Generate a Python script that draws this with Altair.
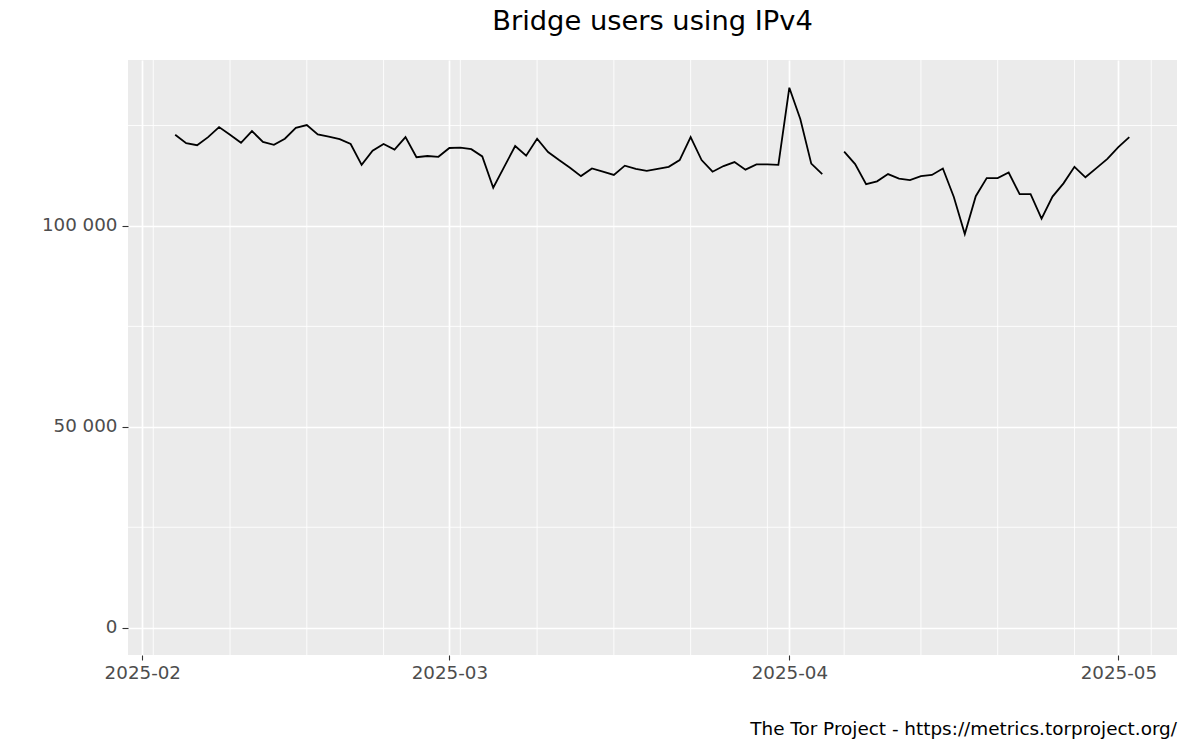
import altair as alt
import pandas as pd

# ---- data ----
dates = [d.strftime("%Y-%m-%d") for d in pd.date_range("2025-02-04", "2025-05-02", freq="D")]
users = [
    # Feb 4 - Feb 28
    122700, 120600, 120100, 122100, 124600, 122700, 120700, 123600, 120900, 120200,
    121700, 124400, 125100, 122800, 122200, 121600, 120400, 115200, 118700, 120400,
    119000, 122100, 117100, 117400, 117200,
    # Mar 1 - Mar 31
    119400, 119500, 119100, 117300, 109500, 114700, 119900, 117500, 121700, 118400,
    116400, 114500, 112400, 114300, 113500, 112700, 115000, 114200, 113700, 114200,
    114700, 116400, 122100, 116400, 113500, 114900, 115900, 114000, 115300, 115300,
    115200,
    # Apr 1 - Apr 30
    134400, 126600, 115500, 112900, None, 118500, 115400, 110400, 111100, 112900,
    111800, 111400, 112400, 112700, 114300, 107200, 98000, 107400, 111900, 111900,
    113300, 107900, 107900, 101800, 107300, 110600, 114700, 112100, 114400, 116700,
    # May 1 - May 2
    119600, 122100,
]
month_ticks = [(2025, 2), (2025, 3), (2025, 4), (2025, 5)]
y_ticks = [0, 50000, 100000]
minor_weeks = ["2025-02-02", "2025-02-09", "2025-02-16", "2025-02-23", "2025-03-02",
               "2025-03-09", "2025-03-16", "2025-03-23", "2025-03-30", "2025-04-06",
               "2025-04-13", "2025-04-20", "2025-04-27", "2025-05-04"]
minor_y = [25000, 75000, 125000]
title_text = "Bridge users using IPv4"
caption_text = "The Tor Project - https://metrics.torproject.org/"

df = pd.DataFrame({"date": dates, "users": users})
df_wk = pd.DataFrame({"date": minor_weeks})
df_my = pd.DataFrame({"users": minor_y})
df_cap = pd.DataFrame({"t": [caption_text]})
df_title = pd.DataFrame({"t": [title_text]})

W, H = 1049, 595

x_scale = alt.Scale(
    type="utc",
    domain=[alt.DateTime(year=2025, month=1, date=30, hours=16, minutes=42, utc=True),
            alt.DateTime(year=2025, month=5, date=6, hours=8, minutes=24, utc=True)],
)
x_axis = alt.Axis(
    values=[alt.DateTime(year=y, month=m, date=1, utc=True) for y, m in month_ticks],
    labelExpr="utcFormat(datum.value, '%Y-%m')",
    grid=True, gridColor="white", gridWidth=1.7,
    domain=False, ticks=True, tickSize=5, tickWidth=1.1, tickColor="#333333",
    labelFontSize=18.3, labelColor="#4D4D4D", labelFont="DejaVu Sans", labelPadding=4,
    labelFlush=False, labelOverlap=False,
)
y_scale = alt.Scale(domain=[-6800, 141300], nice=False, zero=False)
y_axis = alt.Axis(
    values=y_ticks,
    labelExpr="replace(format(datum.value, ','), ',', ' ')",
    grid=True, gridColor="white", gridWidth=1.7,
    domain=False, ticks=True, tickSize=6, tickWidth=1.1, tickColor="#333333",
    labelFontSize=18.3, labelColor="#4D4D4D", labelFont="DejaVu Sans", labelPadding=5,
)

minor_v = alt.Chart(df_wk).mark_rule(color="white", strokeWidth=0.85).encode(
    x=alt.X("date:T", scale=x_scale, axis=x_axis, title="")
)
minor_h = alt.Chart(df_my).mark_rule(color="white", strokeWidth=0.85).encode(
    y=alt.Y("users:Q", scale=y_scale, axis=y_axis, title="")
)
line = alt.Chart(df).mark_line(
    color="black", strokeWidth=1.8, invalid="break-paths-show-domains"
).encode(
    x=alt.X("date:T", scale=x_scale, axis=x_axis, title=""),
    y=alt.Y("users:Q", scale=y_scale, axis=y_axis, title=""),
)
caption = alt.Chart(df_cap).mark_text(
    align="right", baseline="alphabetic", fontSize=18.4, font="DejaVu Sans", color="black"
).encode(
    x=alt.value(W), y=alt.value(H + 80), text="t:N"
)
title = alt.Chart(df_title).mark_text(
    align="center", baseline="alphabetic", fontSize=27.3, font="DejaVu Sans", color="black"
).encode(
    x=alt.value(W / 2), y=alt.value(-30), text="t:N"
)

chart = alt.layer(minor_v, minor_h, line, caption, title).properties(
    width=W, height=H,
    autosize=alt.AutoSizeParams(type="none"),
    padding={"left": 120, "top": 52, "right": 15, "bottom": 87},
    background="white",
).configure_view(fill="#EBEBEB", stroke=None)

chart.save("out.html", embed_options={"renderer": "svg", "actions": False})
